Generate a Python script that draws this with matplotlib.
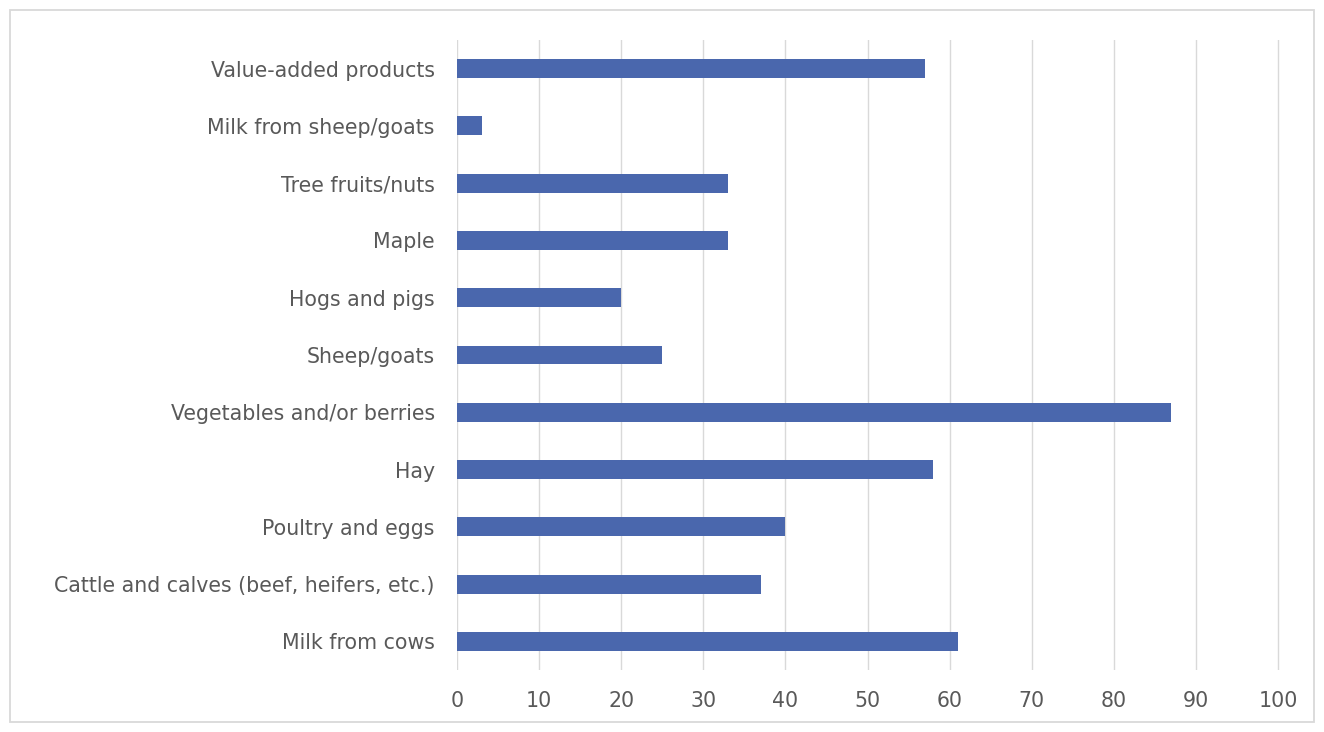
import matplotlib
matplotlib.use("Agg")
import matplotlib.pyplot as plt
from matplotlib.patches import Rectangle

categories = ["Milk from cows", "Cattle and calves (beef, heifers, etc.)", "Poultry and eggs",
              "Hay", "Vegetables and/or berries", "Sheep/goats", "Hogs and pigs", "Maple",
              "Tree fruits/nuts", "Milk from sheep/goats", "Value-added products"]
values = [61, 37, 40, 58, 87, 25, 20, 33, 33, 3, 57]
xticks = [0, 10, 20, 30, 40, 50, 60, 70, 80, 90, 100]

plt.rcParams['font.family'] = ['DejaVu Sans']

W, H = 1324, 732
x0, x100 = 457, 1278
xmax = 100.5
right = x0 + (x100 - x0) * xmax / 100
fig = plt.figure(figsize=(W/100, H/100), dpi=100)
ax = fig.add_axes([x0/W, 1 - 670/H, (right - x0)/W, (670-40)/H])

ax.barh(range(len(categories)), values, height=0.33, color="#4A67AD", zorder=3)
ax.set_xlim(0, xmax)
ax.set_ylim(-0.5, len(categories) - 0.5)
ax.set_xticks(xticks)
ax.set_yticks(range(len(categories)))
ax.set_yticklabels(categories)
ax.grid(axis='x', color="#D9D9D9", linewidth=1.0, zorder=0)
for s in ax.spines.values():
    s.set_visible(False)
ax.tick_params(axis='both', length=0, labelsize=14.8, colors="#595959")
ax.tick_params(axis='x', pad=15)
ax.tick_params(axis='y', pad=16)

fig.patches.append(Rectangle((10/W, 10/H), (1314-10)/W, (722-10)/H, transform=fig.transFigure,
                             fill=False, edgecolor="#D9D9D9", linewidth=1.3))

fig.savefig("out.png", dpi=100, facecolor="white")
